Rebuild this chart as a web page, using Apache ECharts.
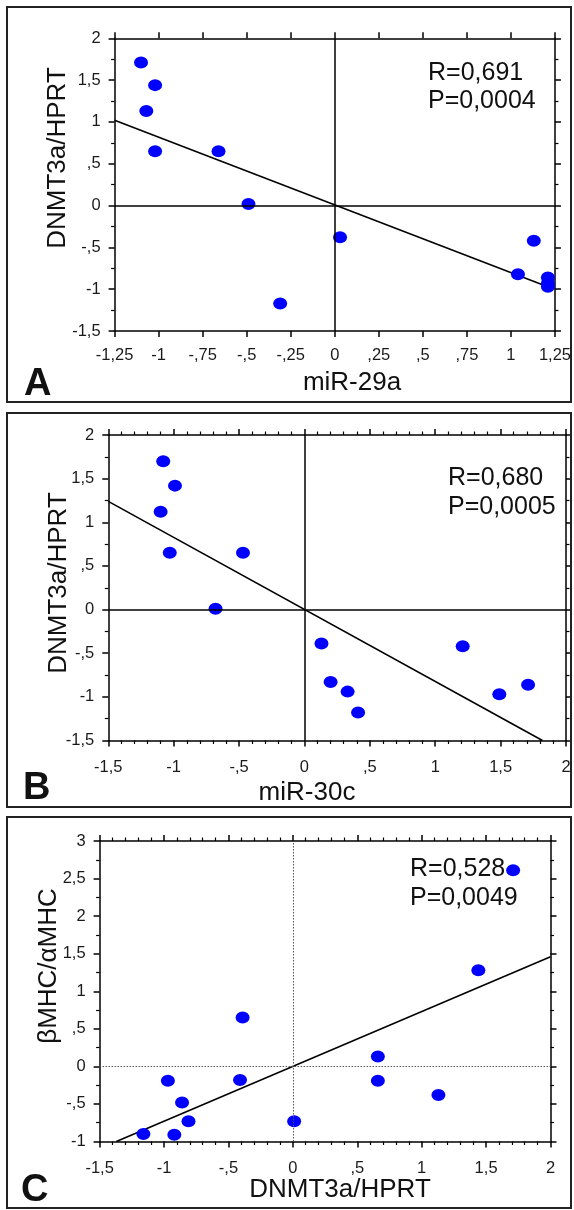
<!DOCTYPE html>
<html>
<head>
<meta charset="utf-8">
<script src="https://cdn.jsdelivr.net/npm/echarts@6/dist/echarts.min.js"></script>
<style>
  html, body { margin: 0; padding: 0; background: #fff; }
  #chart { width: 574px; height: 1210px; }
</style>
</head>
<body>
<div id="chart"></div>
<script>
// panel A : miR-29a vs DNMT3a/HPRT
var xA = [-1.10, -1.02, -1.07, -1.02, -0.66, -0.49, 0.03, -0.31, 1.13, 1.04, 1.21, 1.21, 1.21];
var yA = [1.71, 1.44, 1.13, 0.65, 0.65, 0.02, -0.38, -1.17, -0.42, -0.82, -0.86, -0.93, -0.97];
var fitA = [[-1.25, 1.02], [1.22, -0.98]];

// panel B : miR-30c vs DNMT3a/HPRT
var xB = [-1.08, -0.99, -1.10, -1.03, -0.47, -0.68, 0.13, 0.20, 0.33, 0.41, 1.21, 1.49, 1.71];
var yB = [1.70, 1.42, 1.12, 0.65, 0.65, 0.01, -0.39, -0.83, -0.94, -1.18, -0.42, -0.97, -0.86];
var fitB = [[-1.5, 1.24], [1.82, -1.5]];

// panel C : DNMT3a/HPRT vs bMHC/aMHC
var xC = [1.71, 1.44, -0.39, 0.66, 0.66, 1.13, -0.97, -0.41, -0.86, -0.81, 0.01, -1.16, -0.92];
var yC = [2.61, 1.28, 0.65, 0.13, -0.19, -0.38, -0.19, -0.18, -0.48, -0.73, -0.73, -0.90, -0.91];
var fitC = [[-1.37, -1.0], [2.0, 1.46]];

// tick labels (decimal comma, no leading zero)
var tickXA = ['-1,25', '-1', '-,75', '-,5', '-,25', '0', ',25', ',5', ',75', '1', '1,25'];
var tickYA = ['-1,5', '-1', '-,5', '0', ',5', '1', '1,5', '2'];
var tickXB = ['-1,5', '-1', '-,5', '0', ',5', '1', '1,5', '2'];
var tickYB = ['-1,5', '-1', '-,5', '0', ',5', '1', '1,5', '2'];
var tickXC = ['-1,5', '-1', '-,5', '0', ',5', '1', '1,5', '2'];
var tickYC = ['-1', '-,5', '0', ',5', '1', '1,5', '2', '2,5', '3'];

var statsA = ['R=0,691', 'P=0,0004'];
var statsB = ['R=0,680', 'P=0,0005'];
var statsC = ['R=0,528', 'P=0,0049'];

var FONT = '"Liberation Sans", Arial, Helvetica, sans-serif';

function pairs(xs, ys) {
    var out = [];
    for (var i = 0; i < xs.length; i++) out.push([xs[i], ys[i]]);
    return out;
}

function fmt(labels, min, step) {
    return function (v) {
        var k = Math.round((v - min) / step);
        return labels[k] !== undefined ? labels[k] : '';
    };
}

function axis(kind, idx, pos, min, max, step, minorSplit, labels, margin) {
    return {
        type: 'value',
        gridIndex: idx,
        position: pos,
        min: min,
        max: max,
        interval: step,
        axisLine: { show: true, onZero: false, lineStyle: { color: '#000', width: 1.5 } },
        axisTick: { show: true, inside: false, length: 6, lineStyle: { color: '#000', width: 1.5 } },
        minorTick: { show: minorSplit > 1, splitNumber: minorSplit || 1, length: 3.5, lineStyle: { color: '#000', width: 1.2 } },
        splitLine: { show: false },
        minorSplitLine: { show: false },
        axisLabel: labels ? {
            show: true,
            margin: margin,
            fontFamily: FONT,
            fontSize: 16.5,
            color: '#1a1a1a',
            formatter: fmt(labels, min, step)
        } : { show: false }
    };
}

var xAxes = [
    axis('x', 0, 'bottom', -1.25, 1.25, 0.25, 0, tickXA, 16),
    axis('x', 0, 'top', -1.25, 1.25, 0.25, 0, null),
    axis('x', 1, 'bottom', -1.5, 2, 0.5, 5, tickXB, 18),
    axis('x', 1, 'top', -1.5, 2, 0.5, 5, null),
    axis('x', 2, 'bottom', -1.5, 2, 0.5, 5, tickXC, 18),
    axis('x', 2, 'top', -1.5, 2, 0.5, 5, null)
];
var yAxes = [
    axis('y', 0, 'left', -1.5, 2, 0.5, 2, tickYA, 14),
    axis('y', 0, 'right', -1.5, 2, 0.5, 2, null),
    axis('y', 1, 'left', -1.5, 2, 0.5, 2, tickYB, 14),
    axis('y', 1, 'right', -1.5, 2, 0.5, 2, null),
    axis('y', 2, 'left', -1, 3, 0.5, 2, tickYC, 14),
    axis('y', 2, 'right', -1, 3, 0.5, 2, null)
];

function panelSeries(ax, pts, fit, zeroStyle) {
    return [
        {
            type: 'line',
            xAxisIndex: ax, yAxisIndex: ax,
            data: fit,
            symbol: 'none',
            silent: true,
            z: 3,
            lineStyle: { color: '#000', width: 1.6 }
        },
        {
            type: 'scatter',
            xAxisIndex: ax, yAxisIndex: ax,
            data: pts,
            symbol: 'circle',
            symbolSize: [14, 12],
            z: 4,
            itemStyle: { color: '#0000ff', opacity: 1 },
            markLine: {
                silent: true,
                symbol: 'none',
                label: { show: false },
                lineStyle: zeroStyle,
                data: [{ xAxis: 0 }, { yAxis: 0 }]
            }
        }
    ];
}

var solidZero = { color: '#000', width: 1.5, type: 'solid' };
var dotZero = { color: '#555', width: 1, type: [1.5, 1.5] };

var series = [].concat(
    panelSeries(0, pairs(xA, yA), fitA, solidZero),
    panelSeries(2, pairs(xB, yB), fitB, solidZero),
    panelSeries(4, pairs(xC, yC), fitC, dotZero)
);

function txt(x, y, s, size, opts) {
    opts = opts || {};
    return {
        type: 'text',
        x: x, y: y,
        rotation: opts.rot || 0,
        style: {
            text: s,
            font: (opts.bold ? 'bold ' : '') + size + 'px ' + FONT,
            fill: '#111',
            textAlign: opts.align || 'center',
            textVerticalAlign: 'middle'
        },
        z: 10
    };
}

function frame(y, h) {
    return {
        type: 'rect',
        shape: { x: 7, y: y, width: 564, height: h },
        style: { fill: 'none', stroke: '#222', lineWidth: 2 },
        z: 1
    };
}

var graphics = [
    frame(7, 395), frame(413, 394), frame(817, 391),
    // panel A
    txt(352, 383, 'miR-29a', 26),
    txt(58, 158, 'DNMT3a/HPRT', 26, { rot: Math.PI / 2 }),
    txt(428, 73, statsA[0], 25, { align: 'left' }),
    txt(428, 101, statsA[1], 25, { align: 'left' }),
    txt(24, 385, 'A', 38, { bold: true, align: 'left' }),
    // panel B
    txt(307, 793, 'miR-30c', 26),
    txt(59, 583, 'DNMT3a/HPRT', 26, { rot: Math.PI / 2 }),
    txt(448, 478, statsB[0], 25, { align: 'left' }),
    txt(448, 507, statsB[1], 25, { align: 'left' }),
    txt(23, 789, 'B', 38, { bold: true, align: 'left' }),
    // panel C
    txt(340, 1190, 'DNMT3a/HPRT', 26),
    txt(49, 966, 'βMHC/αMHC', 26, { rot: Math.PI / 2 }),
    txt(410, 869, statsC[0], 25, { align: 'left' }),
    txt(410, 898, statsC[1], 25, { align: 'left' }),
    txt(21, 1191, 'C', 38, { bold: true, align: 'left' })
];

var chart = echarts.init(document.getElementById('chart'), null, { renderer: 'canvas' });
chart.setOption({
    animation: false,
    backgroundColor: '#fff',
    grid: [
        { left: 114.6, top: 38.3, width: 440.7, height: 292.7 },
        { left: 108.3, top: 435, width: 457.7, height: 305.5 },
        { left: 99.6, top: 841, width: 450.9, height: 300.5 }
    ],
    xAxis: xAxes,
    yAxis: yAxes,
    series: series,
    graphic: graphics
});
</script>
</body>
</html>
